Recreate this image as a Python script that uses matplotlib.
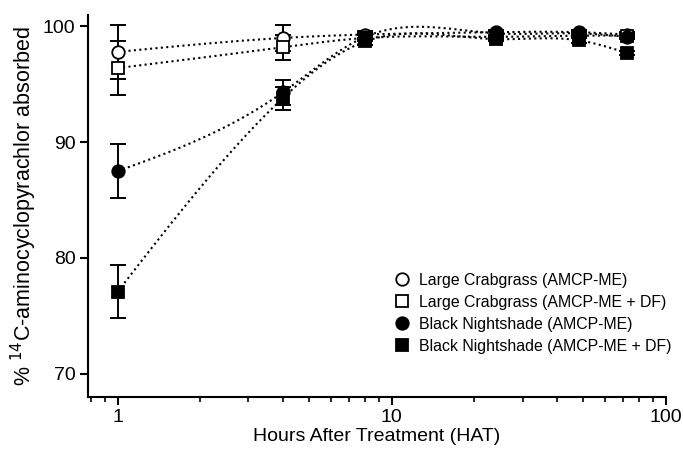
import numpy as np
import matplotlib.pyplot as plt
from matplotlib.ticker import LogLocator, FixedLocator, NullFormatter

plt.rcParams['font.family'] = ['Liberation Sans', 'DejaVu Sans']

hours = [1, 4, 8, 24, 48, 72]

lc = [97.8, 99.0, 99.3, 99.5, 99.5, 99.3]
lc_err = [2.3, 1.1, 0.3, 0.2, 0.2, 0.2]
lc_df = [96.4, 98.2, 99.0, 99.1, 99.2, 99.2]
lc_df_err = [2.3, 1.1, 0.3, 0.2, 0.2, 0.2]
bn = [87.5, 94.3, 99.1, 99.4, 99.4, 99.1]
bn_err = [2.3, 1.1, 0.3, 0.2, 0.2, 0.2]
bn_df = [77.1, 93.8, 98.7, 98.9, 98.8, 97.7]
bn_df_err = [2.3, 1.0, 0.3, 0.2, 0.2, 0.2]

labels = ["Large Crabgrass (AMCP-ME)", "Large Crabgrass (AMCP-ME + DF)",
          "Black Nightshade (AMCP-ME)", "Black Nightshade (AMCP-ME + DF)"]


def spline(x, y, n=300):
    # natural cubic spline on log10(x), used for the connecting curve
    u = np.log10(np.asarray(x, float))
    y = np.asarray(y, float)
    k = len(u)
    h = np.diff(u)
    A = np.zeros((k, k))
    r = np.zeros(k)
    A[0, 0] = A[-1, -1] = 1
    for i in range(1, k - 1):
        A[i, i - 1] = h[i - 1]
        A[i, i] = 2 * (h[i - 1] + h[i])
        A[i, i + 1] = h[i]
        r[i] = 3 * ((y[i + 1] - y[i]) / h[i] - (y[i] - y[i - 1]) / h[i - 1])
    c = np.linalg.solve(A, r)
    uu = np.linspace(u[0], u[-1], n)
    idx = np.clip(np.searchsorted(u, uu) - 1, 0, k - 2)
    d = uu - u[idx]
    b = (y[1:] - y[:-1]) / h - h * (2 * c[:-1] + c[1:]) / 3
    dd = (c[1:] - c[:-1]) / (3 * h)
    yy = y[idx] + b[idx] * d + c[idx] * d ** 2 + dd[idx] * d ** 3
    return 10 ** uu, yy


fig = plt.figure(figsize=(6.83, 4.49), dpi=100)
ax = fig.add_axes([0.129, 0.116, 0.846, 0.851])

series = [(lc, lc_err, 'o', 'white'), (lc_df, lc_df_err, 's', 'white'),
          (bn, bn_err, 'o', 'black'), (bn_df, bn_df_err, 's', 'black')]

for (vals, err, m, fc), lab in zip(series, labels):
    xs, ys = spline(hours, vals)
    ax.plot(xs, ys, color='black', lw=1.5, linestyle=(0, (1, 1.6)), zorder=1)
    ax.errorbar(hours, vals, yerr=err, fmt='none', ecolor='black',
                elinewidth=1.4, capsize=5.5, capthick=1.4, zorder=2)
    ax.plot(hours, vals, linestyle='none', marker=m, markersize=9,
            markerfacecolor=fc, markeredgecolor='black', markeredgewidth=1.3,
            label=lab, zorder=3)

ax.set_xscale('log')
ax.set_xlim(0.78, 100)
ax.set_ylim(68, 101)
ax.yaxis.set_major_locator(FixedLocator([70, 80, 90, 100]))
ax.xaxis.set_major_locator(FixedLocator([1, 10, 100]))
ax.xaxis.set_major_formatter(plt.FuncFormatter(lambda v, p: f"{v:g}"))
ax.xaxis.set_minor_locator(LogLocator(base=10, subs=np.arange(2, 10)))
ax.xaxis.set_minor_formatter(NullFormatter())

for s in ['top', 'right']:
    ax.spines[s].set_visible(False)
for s in ['left', 'bottom']:
    ax.spines[s].set_linewidth(1.5)
ax.tick_params(axis='both', which='major', length=6, width=1.5, labelsize=14, pad=3)
ax.tick_params(axis='x', which='minor', length=3.5, width=1.2)

ax.set_xlabel("Hours After Treatment (HAT)", fontsize=14, labelpad=1)
ax.set_ylabel("% $^{14}$C-aminocyclopyrachlor absorbed", fontsize=15.5, labelpad=3)

ax.legend(loc='lower right', bbox_to_anchor=(1.035, 0.075), frameon=False,
          fontsize=11.4, handletextpad=0.5, labelspacing=0.45,
          handlelength=1.2)

fig.savefig('out.png', dpi=100)
